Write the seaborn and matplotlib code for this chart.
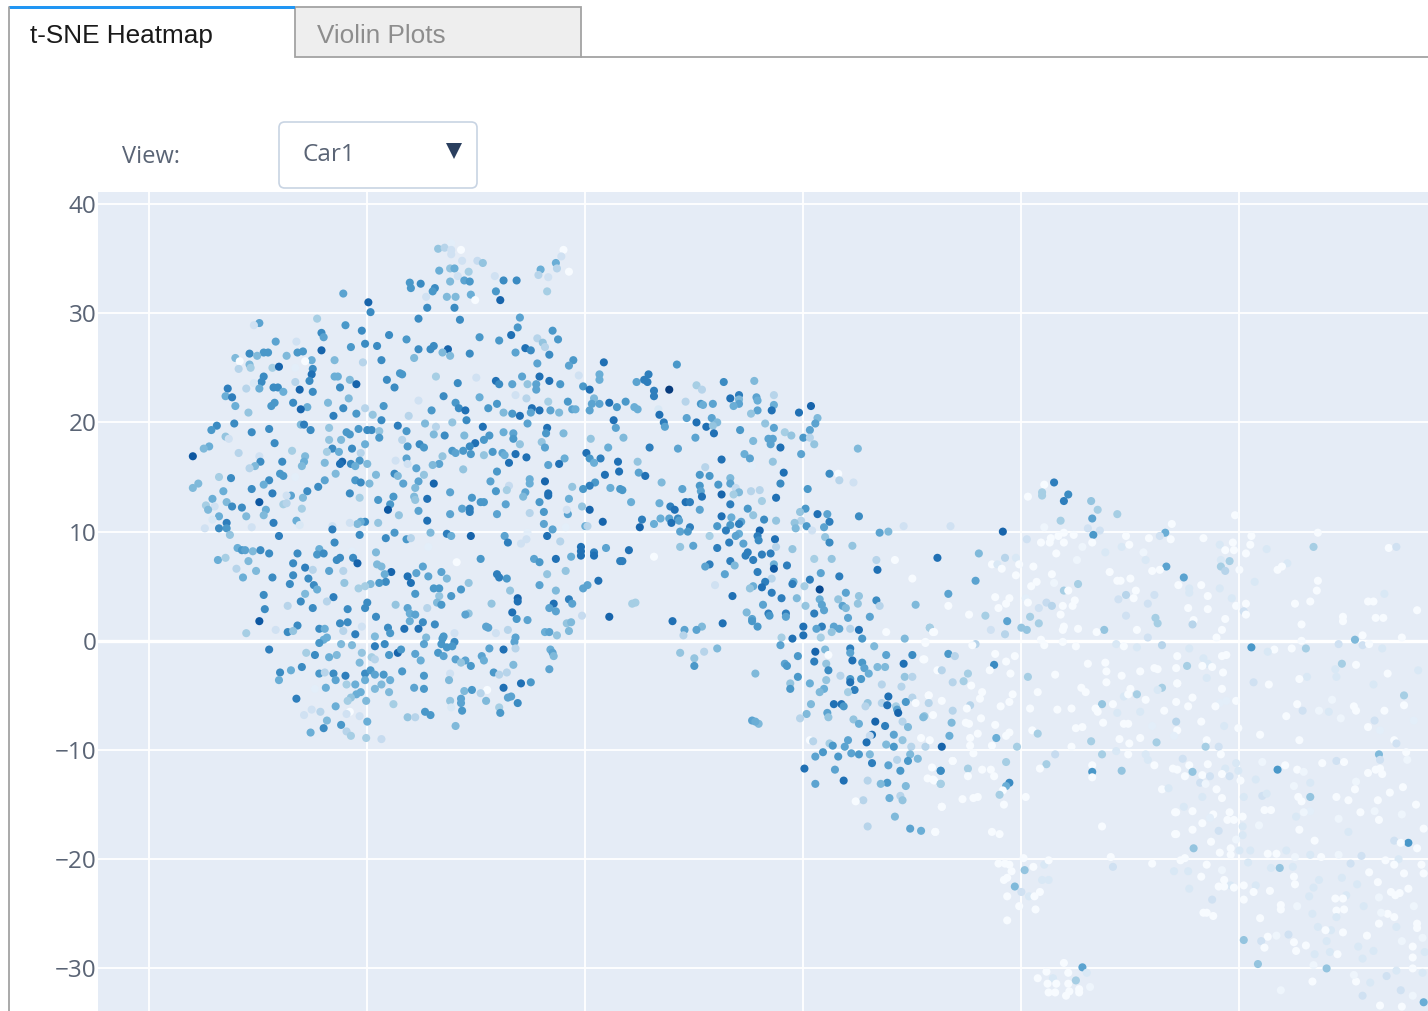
import matplotlib
matplotlib.use("Agg")
import matplotlib.pyplot as plt
import pandas as pd
import seaborn as sns
from matplotlib.patches import Rectangle, FancyBboxPatch, Polygon
from matplotlib.lines import Line2D

# t-SNE cells as (tSNE_1, tSNE_2, normalised Car1 expression)
upper_left = [(-22.2,31.8,.55),(-19.9,31.0,.8),(-19.7,30.1,.65),(-24.6,29.5,.35),(-29.9,29.1,.55),(-30.4,28.9,.2),(-22.0,28.9,.6),(-20.5,28.4,.65),(-24.2,28.2,.65),(-24.0,27.8,.55),(-18.0,28.0,.65),(-28.4,27.4,.55),(-26.5,27.4,.2),(-20.2,27.2,.65),(-21.5,26.9,.6),(-19.1,27.0,.65),(-24.2,26.6,.8),(-30.8,26.3,.65),(-29.5,26.4,.6),(-29.1,26.4,.6),(-26.4,26.4,.6),(-25.9,26.5,.6),(-30.1,26.1,.45),(-27.4,26.1,.45),(-32.1,25.9,.45),(-25.1,25.7,.5),(-23.0,25.7,.45),(-18.7,25.7,.65),(-20.4,25.5,.3),(-31.7,25.6,0),(-25.7,25.6,0),(-30.8,25.3,.45),(-31.8,24.9,.3),(-30.7,25.0,.35),(-28.7,25.0,.35),(-28.1,25.1,.8),(-25.0,24.9,.65),(-26.6,25.0,.1),(-25.1,24.4,.75),(-29.5,24.2,.65),(-23.0,24.2,.5),(-22.7,24.2,.5),(-21.6,23.9,.45),(-18.2,23.9,.65),(-17.0,24.5,.6),(-29.7,23.7,.65),(-26.6,23.7,.3),(-25.3,23.8,.65),(-30.4,23.6,.15),(-21.0,23.5,.8),(-32.8,23.1,.7),(-31.1,23.1,.3),(-29.9,23.1,.5),(-28.6,23.2,.65),(-28.2,23.2,.65),(-22.5,23.2,.65),(-17.5,23.2,.65),(-27.7,22.8,.5),(-26.2,23.0,.8),(-25.0,22.8,.65),(-33.0,22.4,.5),(-32.4,22.3,.7),(-21.7,22.2,.45),(-23.6,21.8,.45),(-28.5,21.8,.6),(-28.8,21.5,.6),(-26.8,21.8,.65),(-32.1,21.5,.5),(-25.5,21.4,.5),(-26.1,21.2,.8),(-22.2,21.3,.65),(-20.2,21.3,.3),(-18.5,21.5,.6),(-30.9,20.9,.4),(-21.0,20.8,.6),(-19.5,20.7,.4),(-23.1,20.6,.7),(-18.7,20.2,.65),(-32.2,19.9,.65),(-33.8,19.7,.65),(-34.3,19.3,.6),(-26.1,19.8,.45),(-25.8,19.8,.7),(-29.0,19.4,.65),(-25.2,19.3,.65),(-23.5,19.5,.4),(-20.8,19.4,.6),(-20.0,19.3,.65),(-19.6,19.3,.65),(-17.2,19.7,.7),(-30.6,19.1,.65),(-21.9,19.1,.6),(-21.6,18.9,.6),(-18.9,19.2,.4),(-18.9,18.6,.6),(-33.0,18.7,.4),(-32.7,18.5,.2),(-23.5,18.4,.4),(-22.4,18.4,.45),(-28.5,18.1,.65),(-20.2,18.0,.5),(-34.5,17.8,.5),(-35.0,17.6,.45),(-23.2,17.6,.65),(-21.4,17.6,.65),(-26.9,17.4,.35),(-23.7,17.3,.35),(-22.6,17.3,.5),(-31.8,17.2,.3),(-20.6,17.2,.3),(-36.0,16.9,.85),(-25.7,16.9,.45),(-29.9,16.9,.2),(-27.8,16.4,.65),(-29.8,16.4,.65),(-25.8,16.4,.5),(-23.9,16.3,.45),(-22.3,16.4,.8),(-22.5,16.2,.75),(-21.5,16.2,.65),(-20.7,16.5,.6),(-21.1,16.0,.5),(-20.0,16.2,.45),(-17.4,16.5,.2),(-30.3,16.0,.45),(-30.8,15.8,.3),(-26.0,16.0,.45),(-22.9,15.3,.45),(-28.0,15.3,.6),(-27.7,15.1,.6),(-19.2,15.2,.45),(-17.5,15.3,.65),(-17.2,15.1,.45),(-33.6,15.0,.35),(-32.5,14.9,.65),(-29.0,14.7,.65),(-23.9,14.7,.55),(-21.1,14.7,.6),(-26.6,15.0,.1),(-35.5,14.4,.45),(-29.5,14.3,.5),(-20.6,14.5,.65),(-19.8,14.4,.45),(-36.0,14.0,.45),(-30.6,13.9,.65),(-24.5,14.1,.65),(-25.5,13.7,.65),(-33.2,13.7,.5),(-28.7,13.5,.7),(-21.6,13.5,.65)]

upper_mid = [(-13.5,35.9,.4),(-12.9,36.0,.3),(-12.3,36.4,.1),(-12.3,35.8,.2),(-11.4,35.8,0),(-12.3,35.4,.2),(-2.0,35.8,0),(-2.2,35.2,.2),(-2.7,34.6,.5),(-11.3,34.8,.2),(-9.9,34.8,.25),(-9.4,34.6,.4),(-13.4,33.9,.5),(-12.4,34.1,.4),(-12.0,34.1,.5),(-10.7,33.8,.35),(-4.1,34.0,.5),(-2.6,34.1,.3),(-1.5,33.8,0),(-4.3,33.5,.3),(-8.3,33.4,.2),(-11.7,33.4,.2),(-3.4,33.3,.2),(-12.4,32.9,.45),(-11.1,33.0,.55),(-10.6,32.9,.6),(-7.5,33.0,.65),(-6.3,33.0,.65),(-16.1,32.8,.6),(-15.1,32.7,.65),(-16.0,32.3,.6),(-13.8,32.3,.65),(-14.0,32.0,.6),(-8.2,32.0,.6),(-3.5,32.0,.35),(-10.5,31.7,.5),(-14.6,31.5,.2),(-12.7,31.5,.45),(-11.9,31.5,.45),(-10.1,31.2,0),(-7.8,31.2,.8),(-14.5,30.5,.65),(-12.0,30.5,.65),(-15.3,29.5,.65),(-11.5,29.4,.65),(-6.0,29.6,.55),(-6.2,28.7,.6),(-3.0,28.4,.6),(-6.8,28.0,.75),(-9.7,27.8,.6),(-16.4,27.6,.6),(-7.9,27.5,.6),(-4.4,27.7,.3),(-2.5,27.6,.6),(-3.9,27.3,.4),(-3.7,26.9,.3),(-13.9,27.0,.65),(-12.6,26.7,.8),(-14.2,26.7,.65),(-15.3,26.7,.65),(-13.1,26.4,.45),(-5.5,26.8,.75),(-5.0,26.6,.65),(-6.4,26.4,.55),(-10.6,26.3,.65),(-12.4,26.1,.45),(-3.3,26.2,.65),(-15.7,25.9,.45),(-1.1,25.7,.6),(1.7,25.5,.75),(-4.4,25.4,.55),(-1.5,25.2,.55),(-16.8,24.4,.6),(-13.7,24.2,.35),(-0.6,24.3,.2),(1.3,24.4,.5),(-10.0,24.1,.2),(-5.8,24.2,.55),(-4.2,24.2,.75),(-8.2,23.8,.75),(-3.3,23.8,.75),(1.3,23.9,.5),(-11.7,23.6,.65),(-7.9,23.5,.65),(-6.7,23.5,.55),(-5.3,23.5,.4),(-4.5,23.5,.55),(-2.3,23.5,.6),(-0.2,23.3,.6),(0.4,23.0,.75),(-4.5,23.0,.55),(-13.0,22.4,.65),(-9.7,22.3,.5),(-6.4,22.5,.2),(-5.4,22.2,.3),(-15.3,22.0,.2),(0.8,22.2,.45),(2.2,21.8,.75),(-1.6,21.9,.6),(-3.4,21.9,.35),(0.6,21.7,.55),(-11.9,21.8,.6),(1.3,21.7,.55),(2.9,21.4,.6),(-8.1,21.7,.6),(-8.9,21.3,.6),(-11.6,21.3,.65),(-11.0,21.1,.75),(-4.9,21.3,.75),(-4.2,21.1,.75),(-14.1,21.1,.6),(-3.2,21.1,.55),(-1.2,21.2,.55),(-0.9,21.2,.5),(0.4,21.1,.55),(-7.5,20.9,.45),(-6.7,20.8,.6),(-2.4,20.9,.45),(-5.0,20.9,.55),(-6.0,20.6,.75),(-16.2,20.6,.3),(-10.9,20.2,.65),(2.6,20.2,.75),(-12.2,20.0,.4),(-14.7,19.9,.45),(-5.3,19.9,.55),(-9.4,19.6,.75),(-3.5,19.5,.75),(-13.7,19.6,.3),(2.8,19.5,.55),(-16.4,19.2,.6),(-7.5,19.1,.5),(-6.6,19.0,.55),(-13.9,18.9,.45),(-12.9,18.8,.65),(-11.1,18.8,.45),(-8.8,18.8,.6),(-3.6,19.0,.6),(-2.0,19.0,.45),(-9.3,18.4,.6),(-6.6,18.5,.6),(0.5,18.5,.4),(-16.8,18.4,.3),(-10.1,18.1,.75),(-4.0,18.2,.4),(-6.0,18.0,.4),(-15.2,18.0,.65),(-16.3,17.8,.6),(-14.8,17.7,.6),(-10.6,17.8,.65),(-3.7,17.7,.55),(2.1,17.7,.5),(-12.2,17.4,.6),(-11.2,17.4,.6),(-8.5,17.3,.6),(-11.9,17.2,.55),(-7.6,17.2,.55),(0.1,17.2,.75),(-6.4,17.1,.75),(-10.5,17.1,.6),(-9.3,17.0,.4),(-5.4,16.8,.75),(-16.4,16.7,.55),(-13.1,16.9,.4),(-7.4,17.0,.5),(-1.9,16.7,.5),(0.4,16.7,.6),(1.4,16.7,.7),(3.0,16.4,.75),(-7.0,16.3,.75),(0.8,16.3,.5),(-13.4,16.2,.55),(-14.0,16.1,.45),(-3.4,16.1,.55),(-2.4,16.2,.75),(-16.3,16.2,.2),(-15.5,15.8,.55),(-11.2,15.7,.4),(3.1,15.5,.75),(-8.1,15.5,.6),(1.8,15.2,.75),(-14.8,15.2,.4),(-5.1,14.8,.5),(-8.7,14.6,.55),(-3.7,14.6,.8),(-15.3,14.6,.55),(-16.7,14.4,.55),(-13.9,14.4,.8),(-5.1,14.4,.5),(0.9,14.5,.6),(0.4,14.2,.7),(-0.2,13.9,.6),(-1.2,14.1,.4),(2.3,14.0,.5),(3.2,13.9,.6),(-15.6,14.0,.45),(-7.0,14.2,.25),(-7.2,13.8,.35),(-12.4,13.6,.55),(-5.5,13.6,.55),(-8.2,13.7,.6),(-3.4,13.5,.75)]

lower_left = [(-34.2,13.0,.5),(-32.9,12.7,.45),(-29.9,12.7,.85),(-27.0,13.3,.55),(-27.4,13.3,.2),(-25.9,13.1,.45),(-19.0,12.9,.6),(-20.7,13.1,.35),(-17.6,13.2,.6),(-17.9,12.5,.6),(-18.1,12.0,.85),(-34.8,12.4,.35),(-34.0,12.3,.2),(-32.4,12.3,.65),(-31.5,12.2,.65),(-27.7,12.5,.35),(-27.4,12.6,.3),(-34.6,12.0,.45),(-26.0,12.1,.35),(-29.3,12.0,.5),(-33.6,11.4,.5),(-31.1,11.4,.45),(-29.5,11.5,.45),(-17.1,11.5,.4),(-26.5,11.0,.5),(-34.2,11.1,.15),(-32.9,10.8,.7),(-28.6,10.8,.7),(-19.0,10.8,.4),(-20.2,10.9,.65),(-20.6,10.9,.5),(-20.9,10.7,.45),(-21.6,10.8,.2),(-26.2,10.6,.15),(-23.2,10.5,.2),(-34.9,10.3,.2),(-33.6,10.3,.65),(-32.9,10.3,.6),(-30.6,10.4,.2),(-23.2,10.2,.7),(-32.6,9.7,.4),(-28.1,9.6,.7),(-20.7,9.7,.65),(-17.5,9.9,.6),(-18.3,9.4,.65),(-23.0,9.0,.65),(-31.9,8.5,.5),(-31.5,8.3,.6),(-31.2,8.3,.55),(-30.5,8.2,.45),(-29.8,8.3,.65),(-29.0,8.0,.65),(-26.4,8.0,.65),(-24.4,8.4,.5),(-24.6,7.9,.6),(-24.0,8.0,.65),(-19.2,8.1,.45),(-21.4,8.2,.1),(-21.3,7.6,.65),(-22.5,7.6,.65),(-22.8,7.4,.65),(-33.7,7.4,.5),(-33.0,7.6,.35),(-30.9,7.3,.45),(-20.9,7.1,.8),(-26.8,7.1,.65),(-19.1,7.0,.45),(-18.7,6.8,.45),(-25.7,6.7,.7),(-32.0,6.6,.3),(-30.2,6.4,.45),(-25.0,6.5,.3),(-23.5,6.4,.55),(-22.2,6.4,.3),(-17.8,6.3,.8),(-18.4,6.1,.5),(-31.4,5.8,.5),(-28.7,5.8,.65),(-26.8,6.0,.65),(-25.4,5.7,.65),(-18.3,5.4,.65),(-18.9,5.3,.6),(-22.1,5.3,.4),(-19.7,5.2,.45),(-20.2,5.0,.35),(-20.8,4.8,.35),(-27.1,5.2,.65),(-24.9,5.1,.65),(-24.6,4.7,.5),(-29.5,4.2,.65),(-25.7,4.3,.45),(-23.1,4.0,.7),(-23.7,3.6,.3),(-26.1,3.6,.65),(-20.0,3.5,.65),(-17.4,3.3,.4),(-27.3,3.2,.3),(-20.2,3.0,.65),(-21.8,2.9,.65),(-29.4,2.9,.65),(-25.0,3.0,.65),(-19.2,2.2,.65),(-29.9,1.8,.85),(-22.5,1.6,.65),(-21.8,1.7,.65),(-26.4,1.4,.65),(-28.4,1.0,.2),(-24.4,1.1,.65),(-23.9,1.1,.5),(-20.5,1.3,.2),(-18.1,1.2,.65),(-27.3,0.8,.65),(-26.8,0.9,.4),(-22.2,0.9,.3),(-17.9,0.7,.6),(-31.1,0.7,.35),(-21.1,0.6,.7),(-19.3,0.4,.45),(-23.7,0.3,.5),(-24.0,0.1,.5),(-24.4,-0.2,.6),(-22.4,-0.3,.45),(-21.4,-0.4,.45),(-19.3,-0.5,.7),(-18.4,-0.3,.65),(-29.0,-0.8,.7),(-25.6,-1.1,.35),(-24.8,-1.3,.65),(-22.8,-1.3,.45),(-20.5,-1.1,.4),(-18.0,-1.3,.6),(-17.2,-1.1,.8),(-23.5,-1.5,.5),(-19.6,-1.5,.35),(-19.3,-1.7,.3),(-20.7,-2.0,.45),(-26.0,-2.4,.65),(-28.0,-2.9,.65),(-27.0,-2.7,.5),(-24.4,-3.0,.6),(-23.9,-2.9,.3),(-23.1,-3.0,.65),(-22.0,-3.2,.7),(-20.2,-3.0,.65),(-19.7,-2.7,.6),(-19.3,-3.1,.55),(-18.5,-3.1,.6),(-28.1,-3.6,.5),(-22.9,-3.6,.55),(-20.2,-3.6,.5),(-17.9,-3.6,.5),(-21.1,-4.0,.5),(-21.9,-4.0,.35),(-18.7,-4.0,.45),(-19.3,-4.4,.45),(-23.8,-4.3,.5),(-24.8,-4.4,.1),(-18.0,-4.7,.45),(-20.6,-4.7,.5),(-21.0,-4.9,.5),(-21.5,-5.2,.4),(-21.8,-5.5,.35),(-26.5,-5.3,.7),(-20.1,-5.5,.45),(-17.6,-5.8,.35),(-22.9,-6.0,.5),(-25.1,-6.3,.2),(-24.3,-6.5,.3),(-25.8,-6.8,.2),(-21.6,-6.5,0),(-21.9,-6.7,.2),(-20.7,-6.9,.2),(-23.7,-7.3,.45),(-20.0,-7.4,.5),(-22.4,-7.7,.6),(-24.0,-8.0,.65),(-25.2,-8.4,.5),(-21.9,-8.3,.3),(-21.5,-8.7,.35),(-20.1,-8.9,.35),(-18.7,-9.0,.25)]

lower_mid = [(-15.7,13.2,.45),(-15.6,12.9,.4),(-14.5,13.0,.75),(-10.4,13.1,.6),(-9.6,12.7,.6),(-9.3,12.7,.6),(-10.6,12.1,.7),(-10.6,11.8,.7),(-11.3,12.1,.55),(-7.3,12.5,.55),(-4.2,12.7,.6),(-1.5,13.0,.5),(-3.4,13.3,.75),(-5.7,13.2,.45),(-15.3,11.9,.55),(-12.4,11.6,.55),(-8.1,11.6,.55),(-5.1,11.7,.3),(-3.8,11.8,.6),(0.4,12.0,.8),(-0.3,12.3,.4),(-1.6,11.6,.55),(-1.7,12.0,.2),(-14.5,11.0,.75),(-3.8,10.7,.55),(1.6,10.9,.8),(0,10.5,.5),(0.2,10.5,.3),(-3.0,10.2,.55),(-1.8,10.4,.1),(-14.2,9.9,.45),(-12.7,9.8,.7),(-12.3,9.6,.5),(-10.5,9.6,.8),(-7.4,9.6,.55),(-5.3,9.9,.1),(-3.5,9.6,.75),(-16.4,9.3,.6),(-16.0,9.4,.3),(-5.4,9.3,.2),(-5.9,8.9,.2),(-7.1,9.0,.7),(-2.3,9.1,.3),(-14.4,8.6,.1),(-0.4,8.6,.75),(-0.4,8.2,.75),(-0.4,7.8,.75),(0.8,8.1,.7),(0.8,7.8,.75),(1.9,8.5,.55),(-9.6,7.5,.6),(-4.7,7.5,.55),(-4.2,7.2,.6),(-2.7,7.5,.75),(-1.3,7.7,.5),(-11.8,7.2,0),(3.2,7.3,.7),(-14.9,6.8,.55),(-13.2,6.3,.55),(-15.5,6.2,.55),(-3.5,6.1,.4),(-1.8,6.4,.4),(-16.3,5.9,.75),(-14.4,5.9,.55),(-12.7,5.7,.45),(-8.1,6.1,.7),(-7.9,5.8,.7),(-7.2,5.7,.6),(-16.0,5.3,.75),(-10.7,5.3,.4),(0.2,5.1,.55),(1.2,5.5,.75),(-0.2,4.8,.55),(-4.2,5.1,.55),(-13.9,4.8,.6),(-13.4,4.8,.6),(-11.4,4.7,.6),(-6.9,4.6,.4),(-2.7,4.6,.45),(-15.6,4.3,.6),(-13.4,4.1,.4),(-12.3,4.1,.6),(-1.5,3.8,.7),(-6.2,3.9,.8),(-6.2,3.6,.75),(-13.6,3.5,.45),(-13.2,3.3,.6),(-8.6,3.4,.4),(-1.2,3.4,.55),(-2.9,3.4,.75),(-3.3,3.0,.55),(-2.7,2.7,.55),(-16.3,3.0,.55),(-14.5,3.0,.3),(-6.7,2.6,.75),(-10.7,2.5,.4),(-11.0,2.4,.55),(-16.1,2.5,.5),(-15.6,2.4,.55),(-0.3,2.3,.25),(2.2,2.2,.8),(-16.1,1.8,.5),(-6.3,2.0,.6),(-5.3,1.9,.55),(-1.7,1.6,.4),(-1.3,1.7,.45),(-14.9,1.7,.65),(-13.8,1.5,.65),(-16.6,1.1,.75),(-15.3,1.1,.75),(-9.1,1.3,.55),(-8.9,1.2,.55),(-7.1,1.0,.3),(-8.2,0.7,.2),(-1.5,0.9,.45),(-3.7,0.8,.5),(-3.3,0.8,.55),(-12.0,0.7,.2),(-2.6,0.5,.4),(-13.0,0.4,.6),(-14.6,0.3,.45),(-13.1,0.2,.6),(-6.4,0.3,.55),(-6.5,-0.1,.55),(-12.0,-0.1,.65),(-13.2,-0.3,.6),(-14.8,-0.3,.55),(-12.7,-0.6,.6),(-12.2,-0.5,.6),(-8.8,-0.7,.55),(-7.5,-0.8,.75),(-6.4,-0.7,.3),(-16.9,-0.8,.6),(-3.2,-0.8,.5),(-3.0,-1.1,.55),(-2.9,-1.4,.45),(-15.6,-1.2,.55),(-13.5,-1.1,.6),(-13.0,-1.4,.55),(-9.5,-1.4,.55),(-9.3,-1.8,.5),(-11.9,-1.7,.55),(-15.1,-1.8,.5),(-11.0,-1.8,.55),(-11.4,-2.0,.4),(-6.6,-2.2,.45),(-10.5,-2.3,.6),(-3.3,-2.6,.55),(-16.8,-2.8,.6),(-8.4,-2.9,.6),(-7.2,-2.9,.3),(-7.9,-3.1,.3),(-14.8,-3.2,.6),(-12.4,-3.0,.2),(-12.5,-3.6,.45),(-5.9,-3.9,.75),(-5.0,-3.8,.6),(-15.7,-4.3,.55),(-14.8,-4.4,.6),(-7.5,-4.3,.75),(-11.1,-4.6,.45),(-10.4,-4.5,.6),(-9.0,-4.5,0),(-9.6,-4.8,.3),(-6.8,-5.1,.55),(-7.1,-5.2,.55),(-12.4,-5.5,.4),(-11.4,-5.3,.55),(-11.4,-5.7,.55),(-9.1,-5.5,.45),(-6.2,-5.7,.65),(-7.9,-6.1,.35),(-12.3,-6.1,.15),(-11.3,-6.4,.6),(-7.8,-6.6,.6),(-14.7,-6.5,.6),(-14.2,-6.8,.6),(-16.3,-7.0,.4),(-15.6,-7.0,.3),(-11.9,-7.8,.45)]

ridge = [(8.4,25.3,.6),(5.8,24.4,.7),(12.7,23.7,.65),(4.7,23.7,.55),(5.4,23.9,.7),(5.7,23.7,.7),(15.5,23.8,.45),(10.2,23.4,.35),(10.7,23.0,.3),(7.7,23.0,.95),(6.3,22.9,.7),(6.3,22.4,.7),(17.3,22.5,.3),(13.3,22.2,.75),(14.1,22.5,.7),(15.7,22.3,.55),(15.8,22.0,.5),(14.1,22.1,.45),(14.1,21.7,.55),(9.2,21.9,.3),(3.7,21.9,.6),(10.6,21.7,.6),(11.7,21.7,.55),(10.8,21.6,.5),(13.6,21.5,.5),(17.3,21.6,.5),(20.7,21.5,.8),(4.5,21.4,.5),(4.8,21.2,.5),(6.7,21.2,.15),(17.1,21.1,.75),(15.8,21.1,.55),(15.2,20.8,.4),(19.6,20.9,.75),(6.8,20.7,.75),(21.3,20.4,.45),(9.3,20.4,.55),(11.6,20.4,.55),(10.2,20.0,.75),(12.1,20.0,.45),(16.5,19.9,.4),(21.1,19.9,.55),(7.2,20.0,.7),(7.3,19.6,.55),(11.1,19.6,.75),(11.7,19.7,.4),(17.3,19.5,.55),(14.2,19.3,.6),(20.6,19.3,.55),(18.3,19.1,.35),(11.8,19.0,.75),(18.9,18.8,.4),(3.5,18.6,.45),(10.1,18.6,.55),(20.0,18.6,.6),(20.6,18.6,.3),(15.4,18.3,.45),(16.8,18.5,.55),(17.2,18.5,.55),(17.0,18.0,.55),(21.0,18.0,.4),(17.9,17.7,.75),(5.9,17.7,.7),(8.5,17.6,.55),(25.0,17.6,.45),(14.6,17.1,.5),(19.8,17.1,.55),(15.1,16.7,.55),(12.5,16.6,.75),(17.2,16.4,.4),(4.8,16.4,.4),(11.0,15.9,.3),(15.3,16.0,.1),(18.2,15.4,.75),(4.9,15.4,.55),(5.5,15.1,.75),(22.4,15.3,.65),(23.2,15.3,0),(10.5,15.2,.6),(11.4,15.1,.6),(13.3,14.9,.45),(23.3,14.7,.3),(24.6,14.5,.2),(7.0,14.5,.45),(17.9,14.4,.65),(13.3,14.4,.55),(12.2,14.3,.6),(8.9,13.9,.55),(10.5,14.2,.6),(20.4,13.9,.6),(3.4,13.8,.6),(10.6,13.7,.55),(13.8,14.0,.25),(15.2,13.7,.3),(16.0,13.8,.3),(12.5,13.4,.8),(14.1,13.6,.45),(13.6,13.4,.35),(10.7,13.2,.75),(17.5,13.1,.75),(4.2,12.7,.5),(6.8,12.6,.5),(9.2,12.7,.75),(9.6,12.7,.7),(16.2,12.8,.35),(13.3,12.5,.7),(7.8,12.3,.7),(14.9,12.1,.6),(8.2,12.0,.75),(20.2,12.1,.6),(10.5,12.0,.55),(19.7,11.8,.4),(21.3,11.6,.75),(22.2,11.6,.55),(12.5,11.4,.75),(15.4,11.5,.4),(25.1,11.4,.65),(13.4,11.3,.5),(7.7,11.2,.55),(5.2,11.1,.7),(6.9,11.2,.5),(8.5,11.2,.65),(16.4,11.1,.65),(8.6,11.0,.55),(17.5,11.0,.4),(22.4,10.9,.7),(14.3,10.9,.55),(7.9,10.8,.75),(6.3,10.7,.5),(14.1,10.7,.7),(19.8,11.0,.3),(19.2,10.8,.4),(20.3,10.5,.6),(13.3,10.6,.6),(12.1,10.5,.6),(9.6,10.4,.7),(21.9,10.4,.55),(29.2,10.5,.2),(5.0,10.4,.8),(19.3,10.3,.45),(12.9,10.1,.7),(16.0,10.1,.8),(8.7,10.0,.55),(9.4,10.0,.6),(20.8,10.1,.2),(27.0,9.9,.55),(27.8,10.0,.45),(14.1,9.8,.5),(13.8,9.6,.55),(11.4,9.6,.35),(15.8,9.6,.7),(22.0,9.5,.4),(17.4,9.3,.75),(15.9,9.2,.65),(22.4,9.0,.65),(13.2,9.0,.7),(14.5,8.9,.55),(8.7,8.6,.4),(9.9,8.7,.55),(17.5,8.6,.3),(24.5,8.7,.4),(12.1,8.5,.7),(19.0,8.4,.4),(4.0,8.3,.75),(14.9,8.1,.7),(17.0,8.0,.7),(14.7,7.8,.7),(16.2,7.9,.7),(6.3,7.7,0),(3.4,7.3,.7),(21.0,7.5,.35),(22.6,7.5,.4),(26.7,7.4,.3),(28.4,7.4,0),(15.4,7.4,.7),(13.3,7.3,.7),(13.7,6.9,.45),(11.4,7.0,.7),(11.0,6.8,.55),(17.3,7.0,.5),(18.5,6.9,.7),(17.3,6.6,.85),(26.8,6.5,.75),(15.8,6.3,.7),(21.6,6.2,.55),(12.8,6.1,.55),(23.3,5.9,.7),(30.0,5.7,0),(17.1,5.7,.3),(20.6,5.6,.7),(16.5,5.4,.7),(19.1,5.4,.5),(19.0,5.2,.7),(11.9,5.1,.2),(15.4,5.0,.5),(15.1,4.8,.4),(20.1,5.0,.35),(16.2,4.9,.75),(21.5,4.7,.9),(17.1,4.4,.7),(23.9,4.4,.55),(13.5,4.1,.75),(25.1,4.1,.4),(18.0,3.9,.7),(19.4,3.9,.45),(23.2,3.8,.4),(21.5,3.8,.5),(26.7,3.7,.65),(21.7,3.3,.55),(25.0,3.4,.4),(16.3,3.3,.55),(20.2,3.2,.4),(23.6,3.2,.55),(23.9,3.0,.45),(27.0,3.2,.3),(30.3,3.3,.45),(4.3,3.4,.35),(4.6,3.5,.35),(21.9,2.8,.55),(14.8,2.6,.45),(16.8,2.5,.7),(18.4,2.5,.7),(21.0,2.5,.7),(16.9,2.3,.6),(26.1,2.2,.55),(18.4,2.2,.55),(15.3,2.0,.55),(24.1,2.1,.55)]

descending = [(8.0,1.8,.75),(12.6,1.6,.75),(15.3,1.8,.6),(15.8,1.3,.6),(10.7,1.3,.45),(9.1,1.0,.55),(10.2,1.0,.55),(9.0,0.5,.3),(20.0,1.3,.75),(21.7,1.3,.7),(21.2,1.1,.55),(22.8,1.3,.55),(23.3,1.1,.55),(22.6,0.8,.4),(24.3,1.1,.3),(25.1,1.0,.75),(20.0,0.5,.75),(19.0,0.2,.75),(18.0,0.3,.35),(21.6,0.3,.35),(25.4,0.2,.6),(27.6,0.8,0),(29.3,0.2,.45),(31.6,1.2,.35),(32.0,0.8,0),(31.2,-0.2,0),(17.9,-0.4,.55),(26.5,-0.5,.45),(24.3,-0.7,.7),(24.3,-1.1,.55),(21.1,-1.0,.8),(22.0,-0.8,.45),(8.7,-1.1,.4),(10.9,-1.0,.3),(12.1,-0.7,.45),(27.6,-1.3,.55),(30.0,-1.3,.65),(22.3,-1.3,0),(19.5,-1.4,.6),(10.0,-1.6,.4),(24.5,-1.8,.75),(21.0,-1.9,.7),(25.4,-2.0,.6),(31.1,-1.7,0),(29.2,-2.1,.75),(18.3,-2.1,.55),(18.5,-2.3,.6),(10.0,-2.3,.6),(22.1,-2.1,.4),(25.6,-2.5,.55),(26.8,-2.4,.45),(27.5,-2.4,.45),(22.3,-2.7,.65),(26.0,-3.0,.5),(15.6,-3.0,.45),(19.5,-3.3,.6),(23.4,-3.2,.3),(29.3,-3.3,.4),(30.0,-3.3,.3),(24.3,-3.5,.6),(25.3,-3.5,.6),(22.1,-3.6,.4),(18.8,-3.9,.4),(24.3,-3.8,.75),(20.6,-3.9,.5),(27.2,-4.0,.3),(21.9,-4.4,.5),(18.8,-4.4,.6),(29.0,-4.2,.3),(24.7,-4.5,.7),(24.1,-4.7,.35),(21.5,-4.7,.45),(27.8,-5.1,.75),(30.0,-5.2,.3),(31.5,-5.0,0),(20.7,-5.8,.45),(29.4,-5.6,.6),(30.3,-5.7,0),(25.9,-5.7,.4),(27.2,-5.7,.3),(25.7,-6.0,.3),(22.8,-5.8,.75),(23.5,-5.8,.75),(23.7,-6.0,.6),(27.7,-5.9,.75),(28.5,-6.0,.35),(28.6,-6.3,.55),(28.7,-6.6,.8),(20.3,-6.7,.45),(22.2,-6.6,.55),(22.3,-7.0,.4),(19.7,-7.1,.3),(31.1,-6.9,.4),(26.6,-7.4,.8),(24.6,-7.2,.4),(25.1,-7.6,.5),(29.1,-7.4,.3),(27.5,-7.8,.7),(29.6,-7.9,.45),(15.3,-7.3,.55),(15.9,-7.6,.45),(15.6,-7.4,.5),(26.3,-8.6,.75),(26.1,-8.7,.25),(28.3,-8.6,.55),(24.1,-9.1,.55),(29.1,-9.1,.4),(20.6,-9.1,0),(20.9,-9.2,.3),(25.8,-9.3,.75),(22.4,-9.4,.35),(22.7,-9.6,.6),(27.6,-9.5,.45),(23.8,-9.7,.55),(28.3,-9.7,.6),(29.9,-9.7,.3),(31.2,-9.7,.3),(21.8,-10.2,.6),(21.1,-10.6,.55),(23.2,-10.6,.6),(24.4,-10.3,.55),(25.1,-10.4,.6),(26.1,-10.4,.45),(29.8,-10.4,.45),(28.6,-10.9,.3),(30.5,-10.8,.45),(29.6,-11.0,.6),(33.7,-11.0,0),(26.3,-11.2,.7),(27.8,-11.4,.55),(20.1,-11.7,.75),(22.9,-11.8,.55),(28.9,-11.9,.6),(31.8,-11.6,0),(32.6,-11.9,.55),(23.7,-12.8,.75),(21.1,-13.1,.55),(25.9,-12.8,.3),(27.7,-13.0,.6),(27.1,-13.1,.45),(29.4,-13.3,.45),(31.4,-12.6,0),(32.0,-12.8,0),(32.6,-13.1,.35),(25.5,-14.6,.3),(27.9,-14.4,.5),(24.8,-14.7,0),(28.9,-14.2,.3),(29.1,-14.6,.4),(32.7,-15.2,0),(28.4,-16.1,.45),(25.9,-17.0,.3),(29.8,-17.2,.55),(30.8,-17.4,.5),(32.1,-17.5,0)]

central_pale = [(43.0,14.5,.7),(42.1,14.3,0),(41.9,13.6,.35),(41.9,13.3,.35),(44.3,13.4,.65),(40.6,13.2,0),(43.9,12.8,.7),(46.4,12.8,.4),(47.0,12.0,.35),(48.8,11.6,.35),(46.5,11.2,.55),(43.6,11.0,.35),(33.5,10.5,.2),(42.1,10.4,.05),(46.1,10.3,.2),(47.2,10.1,.2),(38.3,10.0,.8),(46.6,9.7,.6),(53.2,9.9,.5),(53.8,10.7,0),(52.7,9.6,.2),(53.7,9.3,0),(43.9,9.9,0),(44.8,9.7,0),(42.7,9.4,0),(43.4,9.6,0),(40.5,9.3,.2),(41.8,9.0,0),(42.6,9.0,0),(43.9,9.0,0),(46.5,9.0,0),(49.6,9.6,0),(51.7,9.4,0),(49.2,8.6,.15),(49.9,8.8,0),(45.6,8.6,.05),(47.7,8.1,.15),(43.2,8.0,0),(51.2,8.1,.05),(32.3,7.6,.75),(36.1,8.0,.45),(38.5,7.6,.3),(39.5,7.6,.15),(45.1,7.4,.05),(51.4,7.4,.15),(37.3,7.0,0),(37.8,7.0,.15),(39.8,7.0,0),(41.1,6.8,0),(38.2,6.6,0),(53.3,6.8,.55),(52.0,6.4,0),(52.7,6.5,0),(48.1,6.3,0),(39.5,6.0,0),(42.8,6.1,0),(48.8,5.5,0),(49.1,5.5,0),(50.0,5.7,0),(35.8,5.5,.55),(41.4,5.4,0),(40.9,5.0,0),(43.0,5.3,.05),(45.2,5.2,.35),(43.9,4.6,.35),(44.3,4.6,0),(33.3,4.3,.55),(52.2,4.2,.2),(50.5,4.6,0),(49.6,4.2,.3),(50.3,3.9,0),(54.4,5.1,0),(37.6,4.0,0),(38.9,3.9,0),(40.4,3.9,.1),(48.9,3.8,.2),(33.3,3.2,0),(38.6,3.4,0),(40.6,3.5,0),(42.3,3.5,.25),(42.8,3.2,.3),(44.9,3.7,0),(44.7,3.2,0),(43.8,3.2,0),(51.6,3.4,.2),(37.9,3.0,0),(41.6,3.0,.2),(35.2,2.4,0),(36.7,2.3,.35),(43.6,2.4,0),(49.6,2.3,.2),(40.8,2.2,.35),(52.3,2.1,.35),(38.7,1.8,.55),(41.6,1.6,.35),(52.5,1.6,.35),(43.9,1.3,0),(40.0,1.2,.4),(40.5,1.0,.4),(45.2,1.1,0),(31.6,1.2,.35),(37.2,1.0,.2),(43.8,1.0,0),(47.6,1.0,.4),(50.6,1.0,0),(46.9,0.8,0),(38.5,0.6,.3),(31.9,0.8,0),(51.6,0.3,.2),(52.9,-0.4,.3),(31.2,-0.1,0),(41.8,0.1,0),(43.8,-0.1,0),(42.1,-0.4,0),(48.7,-0.3,.15),(49.4,-0.5,0),(50.6,-0.6,.15),(45.0,-0.5,0),(35.8,-0.3,.3),(35.5,-0.4,0),(37.6,-1.2,0),(39.4,-1.4,0),(33.3,-1.2,.6),(33.9,-1.4,.3),(31.0,-1.7,0),(54.3,-1.4,0),(38.6,-1.9,0),(37.5,-2.2,.65),(47.7,-2.0,0),(46.1,-2.1,0),(52.2,-2.5,0),(52.5,-2.6,0),(54.2,-2.5,0),(32.3,-2.7,0),(32.7,-2.7,.3),(37.1,-2.7,0),(47.8,-2.8,0),(50.9,-2.8,0),(35.1,-3.0,.35),(39.0,-3.0,0),(43.1,-3.1,0),(49.2,-3.2,0),(40.6,-3.3,.35),(34.7,-3.7,.35),(33.7,-3.8,.3),(35.4,-4.1,0),(47.8,-3.8,0),(54.3,-3.9,0),(52.9,-4.3,.35),(52.5,-4.5,.15),(50.0,-4.4,0),(41.5,-4.7,0),(45.5,-4.3,0),(45.9,-4.7,0),(49.4,-5.1,.15),(49.8,-4.9,0),(50.6,-4.9,.35),(36.4,-4.7,0),(31.5,-5.0,0),(36.2,-5.3,0),(39.2,-4.9,0),(51.4,-5.4,0),(32.7,-5.5,0),(38.9,-5.6,0),(31.5,-5.7,.3),(54.2,-5.6,0),(35.3,-5.9,.3),(38.1,-6.0,0),(47.4,-5.8,.4),(48.4,-5.8,0),(35.0,-6.2,0),(33.7,-6.4,.3),(40.8,-6.2,0),(43.3,-6.3,0),(44.6,-6.2,0),(46.8,-6.2,0),(47.0,-6.5,0),(50.9,-6.5,.15),(48.8,-6.6,.15),(53.1,-6.4,0),(31.9,-6.8,0),(31.0,-7.0,.45),(36.3,-7.1,0),(33.6,-7.5,.45),(34.9,-7.5,0),(35.2,-7.6,0),(37.6,-7.7,0),(47.5,-7.5,0),(49.4,-7.6,0),(49.8,-7.6,0),(54.2,-7.4,.3),(52.0,-7.8,.1),(45.0,-8.0,0),(45.6,-7.9,0),(41.0,-8.2,0),(54.3,-8.2,0),(38.9,-8.4,0),(36.0,-8.5,0),(41.5,-8.5,.35),(33.4,-8.7,.5),(38.6,-8.7,0),(37.7,-8.9,.5),(35.3,-8.9,0),(30.8,-8.9,0),(31.6,-9.1,0),(54.0,-8.7,.1),(49.0,-9.0,0),(50.9,-8.9,0),(46.4,-9.2,.35),(52.4,-9.3,.35),(49.9,-9.4,0),(32.7,-9.7,.8),(35.3,-9.6,0),(37.3,-9.6,0),(39.6,-9.7,.35),(44.6,-9.7,0)]

far_right_upper = [(59.6,11.5,0),(61.1,9.6,0),(67.2,9.9,0),(56.7,9.4,0),(58.2,8.8,.15),(59.4,9.0,0),(61.0,8.8,0),(62.5,8.4,.15),(66.8,8.6,.35),(58.7,8.3,0),(59.5,8.3,0),(60.6,8.0,0),(73.7,8.5,0),(74.4,8.6,.2),(58.3,7.4,.15),(59.1,7.3,.35),(58.3,6.8,.35),(58.7,6.4,.3),(64.4,7.1,.15),(63.9,6.8,0),(63.5,6.5,0),(60.0,6.5,0),(54.9,5.8,.55),(61.4,5.4,.15),(67.2,5.5,0),(56.5,5.1,0),(55.4,4.8,.15),(58.2,4.8,.15),(55.4,4.4,.15),(57.1,4.1,0),(59.3,3.9,.15),(67.1,4.6,0),(66.5,3.6,0),(73.3,4.3,.15),(71.8,3.6,0),(72.3,3.6,0),(65.1,3.4,0),(60.6,3.4,0),(55.3,3.0,0),(57.1,2.9,0),(59.7,3.2,0),(76.3,2.8,0),(60.4,2.7,.2),(60.6,2.4,0),(58.7,2.0,0),(69.5,2.2,0),(69.5,1.8,0),(72.5,2.1,0),(73.2,2.1,0),(55.8,1.9,0),(55.7,1.5,.3),(65.7,1.5,0),(58.4,1.0,0),(57.9,0.3,0),(71.3,0.5,0),(74.9,0.3,0),(70.6,0.1,.45),(65.7,0,0),(69.1,-0.3,.2),(71.3,-0.4,.2),(71.9,-0.3,0),(55.4,-0.7,.15),(61.1,-0.6,.6),(66.1,-0.7,.35),(64.8,-0.7,0),(73.1,-0.7,.15),(63.2,-0.8,0),(62.6,-1.0,.15),(58.8,-1.3,0),(58.4,-1.4,0),(56.7,-1.6,.15),(57.1,-2.1,.15),(69.4,-2.1,.35),(70.7,-2.2,0),(56.6,-2.3,0),(55.2,-2.3,.35),(57.5,-2.4,0),(68.8,-2.6,.15),(76.4,-2.7,.15),(58.5,-2.9,0),(73.6,-3.0,0),(68.9,-3.3,.15),(66.2,-3.3,.15),(57.0,-3.4,.15),(65.5,-3.5,0),(54.3,-3.9,0),(61.3,-3.8,.2),(62.7,-4.0,0),(72.3,-4.0,.15),(58.4,-4.4,0),(75.1,-5.0,.35),(55.7,-5.2,0),(68.5,-5.4,.05),(65.3,-5.8,0),(58.2,-5.7,.1),(58.8,-5.5,.1),(59.7,-5.5,0),(57.8,-6.0,0),(55.3,-6.0,0),(70.5,-6.0,0),(75.1,-5.9,0),(65.8,-6.4,.2),(70.7,-6.4,0),(73.3,-6.4,0),(67.3,-6.4,.05),(68.2,-6.5,.15),(64.3,-6.9,0),(69.3,-7.1,.05),(72.4,-7.3,.2),(56.5,-7.4,0),(76.0,-7.3,.1),(58.6,-7.8,.15),(71.8,-7.9,0),(59.9,-8.0,0),(61.9,-8.6,0),(72.9,-8.2,.1),(57.0,-9.1,0),(74.2,-9.1,0),(74.4,-9.4,.2),(65.5,-9.1,0),(56.9,-9.7,.35),(58.1,-9.7,.2)]

south_west = [(33.7,-11.0,0),(35.6,-10.3,0),(38.6,-11.1,.35),(43.1,-10.4,.25),(47.4,-10.4,.35),(48.7,-10.1,.15),(49.8,-10.4,0),(51.4,-10.4,.15),(51.6,-10.9,.15),(32.6,-11.9,.65),(35.1,-11.7,.35),(36.4,-11.8,0),(37.2,-11.8,0),(35.1,-12.4,0),(37.5,-12.4,0),(42.3,-11.3,.35),(41.7,-11.7,0),(46.5,-11.4,0),(46.5,-12.0,.6),(46.5,-12.5,0),(49.2,-11.9,.4),(52.2,-11.4,0),(53.9,-11.7,0),(54.3,-11.8,0),(31.9,-12.7,0),(32.6,-13.1,.35),(38.9,-13.0,.65),(38.6,-13.3,.5),(38.3,-13.7,0),(38.0,-14.1,.35),(52.9,-13.6,0),(53.5,-13.5,.15),(36.0,-14.3,0),(35.6,-14.4,0),(34.6,-14.5,0),(40.4,-14.3,0),(32.7,-15.2,0),(38.4,-15.0,0),(54.2,-15.7,0),(47.4,-17.0,0),(32.1,-17.5,0),(37.3,-17.5,0),(38.0,-17.7,0),(54.2,-17.7,0),(40.2,-19.9,0),(48.2,-19.8,0),(37.9,-20.4,0),(38.5,-20.4,0),(38.9,-20.5,0),(42.1,-20.5,.15),(42.5,-20.1,0),(48.4,-20.7,.2),(52.0,-20.4,0),(39.1,-21.1,0),(41.1,-20.7,0),(40.3,-21.0,.4),(54.0,-21.1,.15),(38.7,-21.7,0),(38.4,-21.9,0),(41.9,-21.9,.15),(42.5,-21.9,.15),(39.4,-22.5,.45),(40.0,-23.0,.2),(41.7,-23.0,0),(40.7,-23.4,.15),(41.2,-23.4,0),(38.7,-23.4,0),(39.8,-24.3,0),(41.3,-24.6,0),(38.7,-25.6,0),(43.9,-29.5,0),(45.6,-29.9,.55),(42.3,-30.3,0),(46.0,-30.4,.15),(44.3,-30.4,0),(41.5,-30.9,0),(42.9,-30.9,.15),(45.0,-31.1,.35),(42.4,-31.4,0),(43.2,-31.4,0),(44.3,-31.4,0),(46.3,-31.7,.05),(45.3,-31.9,0),(42.5,-32.2,0),(43.1,-32.2,0),(44.4,-32.1,0),(45.3,-32.2,0),(44.1,-32.5,0)]

south_east = [(72.8,-10.4,.45),(72.9,-10.9,.2),(75.3,-10.2,0),(58.3,-10.4,0),(54.8,-10.8,.2),(62.1,-11.1,.05),(59.7,-11.2,.15),(67.6,-11.2,0),(68.9,-11.0,.2),(69.6,-11.1,0),(75.4,-10.9,.05),(58.7,-11.7,.15),(57.1,-11.3,0),(55.4,-11.4,0),(63.5,-11.8,.6),(64.2,-11.4,0),(65.3,-11.8,0),(65.9,-12.0,.05),(59.9,-11.9,.15),(71.8,-12.1,0),(72.5,-11.8,0),(72.9,-11.7,0),(73.1,-12.2,0),(55.7,-12.0,.4),(55.0,-12.4,0),(56.6,-12.3,0),(57.3,-12.4,.2),(58.4,-12.2,0),(59.1,-12.4,.2),(61.5,-12.7,.15),(60.1,-12.8,0),(56.4,-13.0,.2),(66.5,-13.0,.15),(56.9,-13.1,.05),(70.7,-12.9,.05),(65.0,-13.3,.05),(75.0,-13.4,0),(57.9,-13.6,0),(70.6,-13.6,0),(73.8,-13.9,0),(56.6,-14.3,.15),(58.4,-14.4,0),(60.4,-14.3,.15),(62.1,-14.2,.2),(62.5,-14.0,.15),(65.4,-14.3,0),(66.5,-14.3,.4),(68.9,-14.3,0),(70.0,-14.6,0),(72.7,-14.6,0),(65.7,-14.7,0),(76.2,-15.0,0),(54.9,-15.2,.15),(55.7,-15.6,0),(54.1,-15.7,0),(57.6,-15.9,0),(59.1,-15.7,0),(62.3,-15.5,0),(62.9,-15.5,0),(66.5,-15.6,.1),(71.1,-15.7,0),(65.9,-15.7,.05),(72.4,-15.6,.05),(74.9,-15.9,.05),(60.3,-16.1,0),(65.2,-16.1,.15),(69.1,-16.3,.05),(72.8,-16.4,0),(56.6,-16.7,0),(57.3,-16.2,.1),(58.9,-16.4,0),(59.5,-16.4,0),(60.3,-17.0,.15),(61.8,-16.9,.05),(76.9,-17.2,0),(55.7,-17.3,0),(58.1,-17.4,.2),(65.5,-17.3,0),(70.0,-17.5,.15),(54.1,-17.7,0),(60.3,-17.8,.15),(59.7,-18.2,.05),(66.9,-18.3,0),(57.4,-18.4,0),(74.2,-18.3,.2),(75.5,-18.5,.6),(74.8,-18.5,0),(55.8,-19.0,.4),(59.2,-19.0,0),(76.3,-19.0,0),(60.0,-19.2,.15),(61.0,-19.2,.15),(64.3,-19.2,.15),(58.2,-19.4,0),(59.2,-19.6,0),(62.6,-19.5,0),(63.4,-19.5,0),(66.5,-19.6,.15),(69.1,-19.6,.05),(71.2,-19.7,.2),(67.5,-19.8,0),(65.1,-19.8,.05),(54.6,-20.1,0),(55.0,-19.9,0),(73.4,-20.1,0),(74.6,-20.0,.15),(60.8,-20.3,.15),(70.2,-20.4,.2),(57.0,-20.5,0),(74.2,-20.5,0),(76.7,-20.5,0),(64.9,-20.7,.15),(62.9,-20.8,.15),(63.7,-20.8,.4),(58.4,-21.0,.05),(55.3,-21.1,.15),(71.9,-21.2,0),(75.1,-21.3,0),(76.9,-21.3,0),(56.5,-21.6,0),(65.0,-21.6,0),(67.3,-21.9,.15),(69.4,-21.7,.15),(58.6,-21.9,0),(72.7,-22.1,0),(70.8,-22.3,.15),(65.1,-22.3,0),(61.5,-22.4,.15),(59.2,-22.4,.15),(58.1,-22.5,0),(58.6,-22.5,0),(59.5,-22.6,0),(60.4,-22.4,0),(55.4,-22.7,.15),(66.8,-22.6,.15),(75.5,-22.7,0),(62.8,-22.9,0),(61.3,-23.0,0),(73.9,-23.0,0),(74.7,-23.1,0),(74.3,-23.3,0),(57.5,-23.7,.2),(66.4,-23.4,.15),(69.8,-23.3,.15),(72.8,-23.5,.05),(60.4,-23.7,0),(68.8,-23.6,0),(69.5,-23.6,0),(63.8,-24.2,0),(63.8,-24.6,0),(65.3,-24.3,.05),(71.4,-24.3,.15),(76.0,-24.3,.05),(68.9,-24.7,0),(69.6,-24.6,0),(56.7,-24.9,0),(57.0,-24.9,0),(57.6,-25.2,0),(66.7,-25.0,.15),(73.6,-25.0,0),(68.9,-25.3,.15),(74.2,-25.3,0),(73.0,-24.9,.05),(61.9,-25.4,0),(72.8,-25.9,0),(76.3,-25.9,0),(76.3,-26.3,0),(67.2,-26.2,.15),(74.4,-26.2,.15),(68.4,-26.5,.15),(67.9,-26.5,0),(69.5,-26.7,0),(64.5,-26.9,.2),(71.7,-27.0,0),(62.6,-27.1,0),(63.4,-27.0,.05),(60.4,-27.4,.4),(62.0,-27.5,.2),(65.0,-27.6,0),(68.0,-27.5,.15),(62.3,-28.1,0),(74.9,-27.5,.05),(76.8,-27.2,.05),(70.9,-28.0,.15),(66.1,-27.9,0),(75.9,-28.0,0),(72.3,-28.4,.15),(65.2,-28.4,0),(68.3,-28.5,.15),(69.0,-28.7,0),(66.9,-28.7,.15),(77.0,-28.5,.15),(71.3,-29.1,.15),(75.9,-29.0,0),(66.8,-29.7,.05),(61.7,-29.6,.4),(68.0,-30.0,.4),(75.9,-30.0,0),(74.4,-30.2,.15),(76.8,-30.4,.15),(73.5,-30.7,.2),(70.7,-31.2,0),(70.5,-30.6,.05),(66.7,-31.2,0),(72.0,-31.3,.15),(74.8,-32.0,.2),(63.8,-32.0,.05),(71.3,-32.5,.2),(75.9,-32.5,.05),(72.9,-33.4,0),(74.9,-33.5,0),(76.9,-33.1,.5)]

columns = ["tSNE_1", "tSNE_2", "Car1"]
cells = pd.DataFrame(upper_left + upper_mid + lower_left + lower_mid + ridge + descending
                     + central_pale + far_right_upper + south_west + south_east, columns=columns)

y_ticks = [40, 30, 20, 10, 0, -10, -20, -30]
y_tick_labels = ["40", "30", "20", "10", "0", "\u221210", "\u221220", "\u221230"]
x_ticks = [-40, -20, 0, 20, 40, 60]

W, H = 1428, 1011
sns.set_style("white", {"axes.facecolor": "#e5ecf6"})
plt.rcParams["font.family"] = ["Open Sans", "DejaVu Sans"]
fig = plt.figure(figsize=(W / 100, H / 100), dpi=100, facecolor="white")
ax = fig.add_axes([98 / W, 0, 1 - 98 / W, 1 - 192 / H])

sns.scatterplot(data=cells, x="tSNE_1", y="tSNE_2", hue="Car1", palette="Blues",
                hue_norm=(0, 1), s=34, linewidth=0, legend=False, ax=ax, zorder=3)

ax.set_xlim(-44.7, 77.3)
ax.set_ylim(-33.9, 41.1)
ax.set_xticks(x_ticks)
ax.set_xticklabels([])
ax.set_yticks(y_ticks)
ax.set_yticklabels(y_tick_labels, fontsize=17.5, color="#5a6475")
ax.tick_params(length=0, pad=1)
ax.set_xlabel("")
ax.set_ylabel("")
ax.grid(True, color="white", linewidth=1.3)
ax.axhline(0, color="white", linewidth=2.4, zorder=1)
for s in ax.spines.values():
    s.set_visible(False)


def fx(p):
    return p / W


def fy(p):
    return 1 - p / H


def add_line(x0, y0, x1, y1, color, lw):
    fig.add_artist(Line2D([fx(x0), fx(x1)], [fy(y0), fy(y1)], color=color, linewidth=lw,
                          transform=fig.transFigure))


add_line(9, 7, 9, 1011, "#a3a3a3", 1.3)
add_line(581, 56.5, 1428, 56.5, "#a3a3a3", 1.3)
fig.add_artist(Rectangle((fx(295), fy(56.5)), 286 / W, 50 / H, facecolor="#eeeeee",
                         edgecolor="#a3a3a3", linewidth=1.3, transform=fig.transFigure))
fig.add_artist(Rectangle((fx(9), fy(9)), 286 / W, 3.5 / H, facecolor="#2196f3",
                         edgecolor="none", transform=fig.transFigure))
fig.text(fx(30), fy(36), "t-SNE Heatmap", family="Liberation Sans", fontsize=18.8,
         color="#1a1a1a", va="center", ha="left")
fig.text(fx(317), fy(36), "Violin Plots", family="Liberation Sans", fontsize=18.8,
         color="#8d8d8d", va="center", ha="left")
fig.text(fx(122), fy(157), "View:", fontsize=17, color="#5a6475", va="center", ha="left")
fig.text(fx(302), fy(155), "Car1", fontsize=17.5, color="#5a6475", va="center", ha="left")
fig.add_artist(FancyBboxPatch((fx(279), fy(188)), 198 / W, 66 / H,
                              boxstyle="round,pad=0,rounding_size=0.004",
                              facecolor="white", edgecolor="#c8d4e3", linewidth=1.2,
                              mutation_aspect=W / H, transform=fig.transFigure))
fig.add_artist(Polygon([(fx(446), fy(143)), (fx(462), fy(143)), (fx(454), fy(159))],
                       closed=True, facecolor="#2a3f5f", edgecolor="none",
                       transform=fig.transFigure))

fig.savefig("out.png", dpi=100)
